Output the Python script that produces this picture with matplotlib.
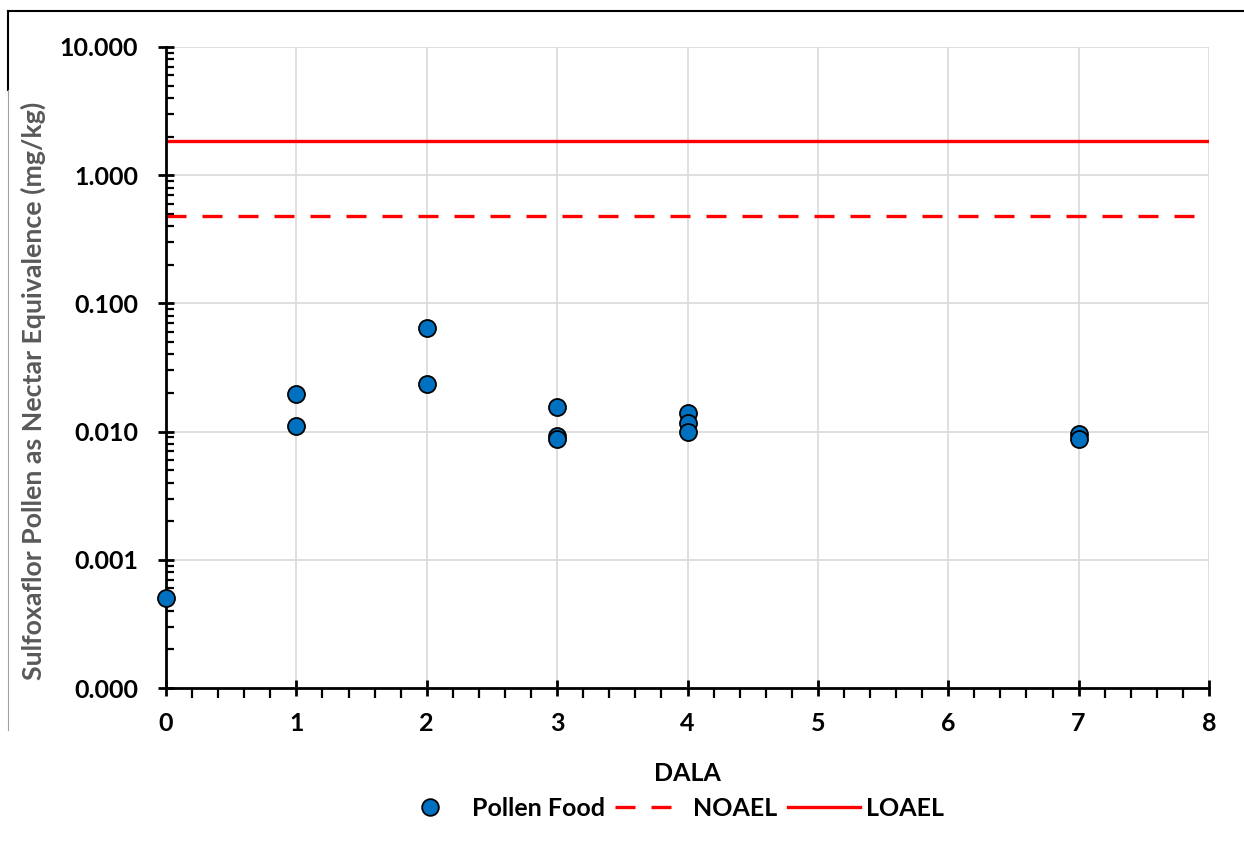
import matplotlib
matplotlib.use("Agg")
import matplotlib.pyplot as plt
import matplotlib.ticker as mticker
from matplotlib.lines import Line2D
import numpy as np

plt.rcParams['font.family'] = ['Lato', 'DejaVu Sans']
plt.rcParams['font.weight'] = 'bold'

# Pollen food residues, DALA vs concentration (mg/kg)
dala = [0, 1, 1, 2, 2, 3, 3, 3, 4, 4, 4, 7, 7]
pollen_food = [0.0005, 0.0196, 0.0111, 0.064, 0.0235, 0.0156, 0.0092, 0.0088,
               0.0139, 0.0116, 0.0100, 0.0095, 0.0088]
noael = 0.48
loael = 1.85
x_range = [0, 8]

fig = plt.figure(figsize=(12.44, 8.49), dpi=100)
ax = fig.add_axes([166/1244, 1-688/849, (1209-166)/1244, (688-47)/849])

dash = (6.0, 4.8)
ax.plot(x_range, [loael, loael], color='#FF0000', lw=2.4, zorder=2)
ax.plot(x_range, [noael, noael], color='#FF0000', lw=2.4, dashes=dash, zorder=2)
ax.scatter(dala, pollen_food, s=150, c='#0070C0', edgecolors='black', linewidths=1.3,
           zorder=4, clip_on=False)

ax.set_yscale('log')
ax.set_ylim(0.0001, 10)
ax.set_xlim(0, 8)
ax.xaxis.set_major_locator(mticker.MultipleLocator(1))
ax.xaxis.set_minor_locator(mticker.MultipleLocator(0.2))
ax.yaxis.set_major_locator(mticker.LogLocator(base=10, numticks=10))
ax.yaxis.set_minor_locator(mticker.LogLocator(base=10, subs=np.arange(2, 10), numticks=10))
ax.yaxis.set_minor_formatter(mticker.NullFormatter())
ax.yaxis.set_major_formatter(mticker.FuncFormatter(lambda v, p: f"{v:.3f}"))

ax.grid(True, which='major', color='#D9D9D9', lw=1.2, zorder=0)
ax.set_axisbelow(True)
for s in ['top', 'right']:
    ax.spines[s].set_visible(False)
for s in ['left', 'bottom']:
    ax.spines[s].set_linewidth(2)
    ax.spines[s].set_zorder(3)

ax.tick_params(axis='both', which='major', direction='inout', length=12, width=2,
               labelsize=18)
ax.tick_params(axis='x', which='major', pad=11)
ax.tick_params(axis='y', which='major', pad=14)
ax.tick_params(axis='y', which='minor', direction='in', length=6, width=1.6)
ax.tick_params(axis='x', which='minor', direction='out', length=7, width=1.6)
for lab in ax.get_xticklabels() + ax.get_yticklabels():
    lab.set_fontweight('bold')

ax.set_xlabel('DALA', fontsize=18, fontweight='bold', labelpad=20)
ax.set_ylabel('Sulfoxaflor Pollen as Nectar Equivalence (mg/kg)', fontsize=19.3,
              fontweight='bold', color='#595959')
ax.yaxis.set_label_coords(-0.115, 0.463)

handles = [
    Line2D([], [], ls='none', marker='o', ms=12, mfc='#0070C0', mec='black', mew=1.3),
    Line2D([], [], color='#FF0000', lw=2.4, dashes=dash),
    Line2D([], [], color='#FF0000', lw=2.4),
]
fig.legend(handles, ['Pollen Food', 'NOAEL', 'LOAEL'], loc='center',
           bbox_to_anchor=(669/1244, 1-808/849), ncol=3, frameon=False,
           prop={'size': 18, 'weight': 'bold'}, handlelength=2.88,
           columnspacing=0.4, handletextpad=0.24)

# frame remnants around the image
fig.add_artist(Line2D([8/1244, 1], [1-11/849, 1-11/849], color='black', lw=1.5))
fig.add_artist(Line2D([8/1244, 8/1244], [1-11/849, 1-90/849], color='black', lw=1.5))
fig.add_artist(Line2D([8/1244, 8/1244], [1-90/849, 1-730/849], color='#A0A0A0', lw=0.8))

fig.savefig('out.png', dpi=100)
